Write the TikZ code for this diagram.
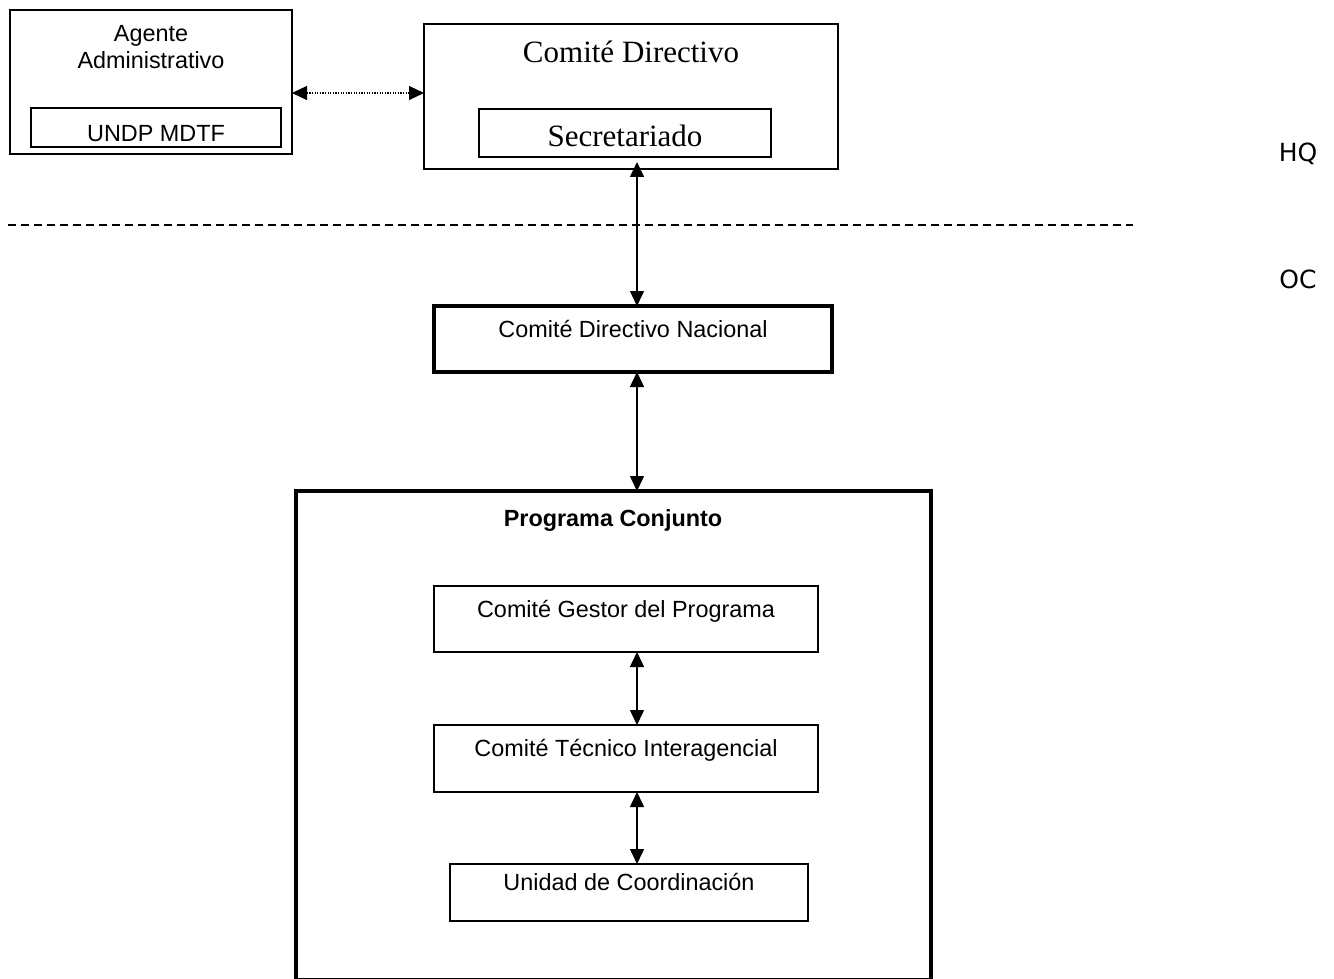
\documentclass[tikz,border=0pt]{standalone}
\usepackage{fontspec}
\setmainfont{Liberation Sans}
\newfontfamily\romana{Liberation Serif}
\newfontfamily\lateral{DejaVu Sans}
\usetikzlibrary{arrows.meta, positioning, calc}

\newcommand{\letra}{\fontsize{23.4}{27}\selectfont}
\newcommand{\letrarom}{\romana\fontsize{31}{36}\selectfont}
\newcommand{\letralat}{\lateral\fontsize{25}{30}\selectfont}

\begin{document}
\begin{tikzpicture}[x=1pt, y=-1pt,
  caja/.style={draw, line width=2pt, inner sep=0pt, outer sep=0pt, font=\letra},
  gruesa/.style={caja, line width=4pt},
  rotulo/.style={text height=17pt, text depth=21pt},
  flecha/.style={{Triangle[length=15pt,width=14pt]}-{Triangle[length=15pt,width=14pt]}, line width=1.5pt},
  titulo/.style={anchor=base, inner sep=0pt, font=\letra}]
\useasboundingbox (0,0) rectangle (1334,979);

\node[caja, minimum width=282pt, minimum height=144pt] (AG) at (151,82) {};
\node[titulo, align=center] (AGt) at (151,69) {Agente\\Administrativo};
\node[caja, minimum width=250pt, minimum height=39pt, text height=29pt, text depth=0pt] (UN) at (156,127.5) {UNDP MDTF};

\node[caja, minimum width=414pt, minimum height=145pt] (CD) at (631,96.5) {};
\node[titulo, font=\letrarom] (CDt) at (631,63) {Comité Directivo};
\node[caja, font=\letrarom, minimum width=292pt, minimum height=48pt, text height=28pt, text depth=0pt] (SEC) at (625,133) {Secretariado};

\coordinate (ya) at (0,93);
\draw[{Triangle[length=15pt,width=14pt]}-{Triangle[length=15pt,width=14pt]}, line width=1.2pt, dash pattern=on 1.2pt off 1.4pt] (AG.east |- ya) -- (CD.west |- ya);

\coordinate (izq) at (8,225);
\coordinate (der) at (1133,225);
\draw[line width=1.5pt, dash pattern=on 8pt off 5pt] (izq) -- (der);

\node[anchor=base, inner sep=0pt, font=\letralat] (HQ) at (1298,162) {HQ};
\node[anchor=base, inner sep=0pt, font=\letralat] (OC) at (1298,288) {OC};

\node[gruesa, rotulo, minimum width=398pt, minimum height=66pt] (CDN) at (633,339) {Comité Directivo Nacional};

\node[gruesa, minimum width=635pt, minimum height=489pt] (PC) at (613.5,735.5) {};
\node[titulo, font=\letra\bfseries] (PCt) at (613,526) {Programa Conjunto};

\node[caja, rotulo, minimum width=384pt, minimum height=66pt] (CGP) at (626,619) {Comité Gestor del Programa};
\node[caja, rotulo, minimum width=384pt, minimum height=67pt] (CTI) at (626,758.5) {Comité Técnico Interagencial};
\node[caja, rotulo, minimum width=358pt, minimum height=57pt] (UC) at (629,892.5) {Unidad de Coordinación};

\coordinate (ax) at (637,0);
\draw[flecha, shorten <=5pt] (SEC.south -| ax) -- (CDN.north -| ax);
\draw[flecha] (CDN.south -| ax) -- (PC.north -| ax);
\draw[flecha] (CGP.south -| ax) -- (CTI.north -| ax);
\draw[flecha] (CTI.south -| ax) -- (UC.north -| ax);
\end{tikzpicture}
\end{document}
